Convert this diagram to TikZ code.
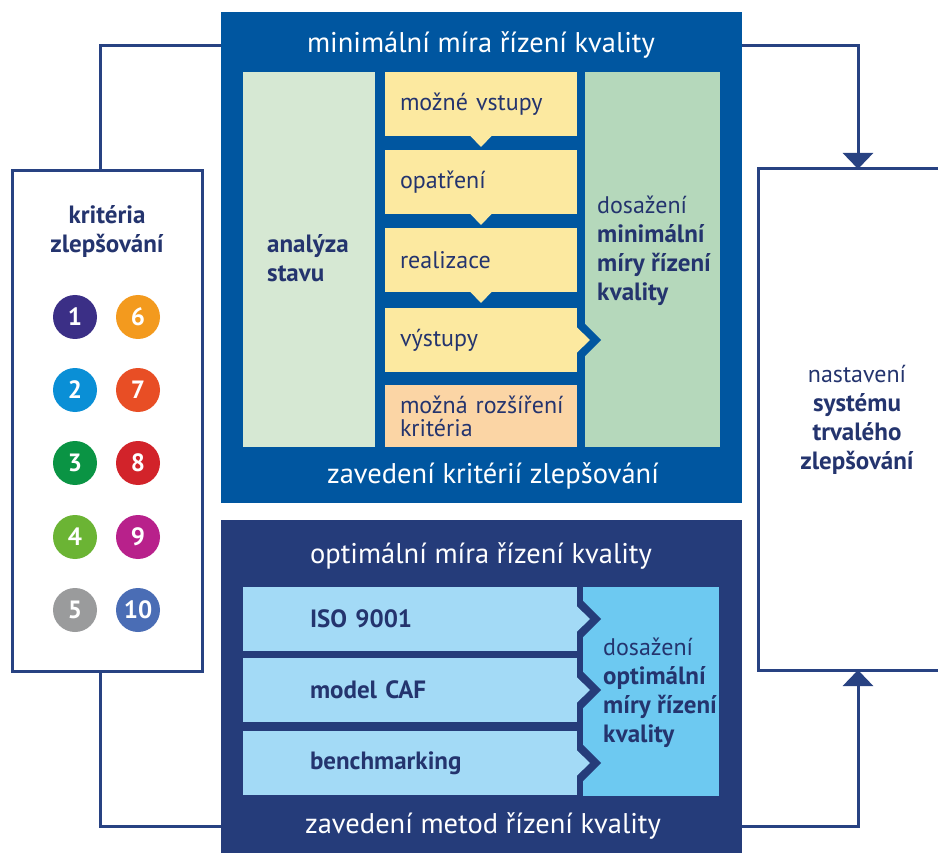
\documentclass[tikz,border=0pt]{standalone}
\usepackage{fontspec}
\setmainfont{PT Sans}
\usetikzlibrary{arrows.meta}

\definecolor{topblue}{RGB}{0,86,160}
\definecolor{navyblue}{RGB}{37,60,122}
\definecolor{linkblue}{RGB}{40,66,130}
\definecolor{txtnavy}{RGB}{36,52,110}
\definecolor{palegreen}{RGB}{214,232,211}
\definecolor{goalgreen}{RGB}{181,216,187}
\definecolor{stepyellow}{RGB}{252,233,160}
\definecolor{steporange}{RGB}{251,213,165}
\definecolor{barblue}{RGB}{163,218,246}
\definecolor{goalblue}{RGB}{109,201,241}
\definecolor{crit1}{RGB}{59,47,134}
\definecolor{crit2}{RGB}{10,143,214}
\definecolor{crit3}{RGB}{10,148,68}
\definecolor{crit4}{RGB}{107,180,52}
\definecolor{crit5}{RGB}{154,155,156}
\definecolor{crit6}{RGB}{243,154,30}
\definecolor{crit7}{RGB}{232,78,37}
\definecolor{crit8}{RGB}{210,35,42}
\definecolor{crit9}{RGB}{184,33,139}
\definecolor{crit10}{RGB}{74,109,181}

\newcommand\titlefont{\fontsize{28.5}{32}\selectfont}
\newcommand\labelfont{\fontsize{24}{29}\selectfont}
\newcommand\boldfont{\fontsize{25}{29}\selectfont\bfseries}
\newcommand\stepfont{\fontsize{24}{23}\selectfont}

\tikzset{
  link/.style={draw=linkblue, line width=3pt},
  linkarrow/.style={link, -{Triangle[width=30pt,length=16pt]}},
  framebox/.style={draw=linkblue, line width=3pt, fill=white, inner sep=0pt, outer sep=0pt, anchor=north west},
  bigbox/.style={inner sep=0pt, outer sep=0pt, anchor=north west},
  panel/.style={inner sep=0pt, outer sep=0pt, anchor=north west},
  title/.style={text=white, font=\titlefont, inner sep=0pt},
  lbl/.style={text=txtnavy, font=\labelfont, align=left, inner sep=0pt},
  stepbox/.style={panel, fill=stepyellow, text=txtnavy, font=\stepfont, align=left,
    inner xsep=15pt, text width=162pt, minimum height=64pt},
  barbox/.style={panel, fill=barblue, text=txtnavy, font=\boldfont, align=left,
    inner xsep=67pt, text width=200pt, minimum height=64pt},
  numdot/.style={circle, minimum size=44pt, inner sep=0pt, text=white, font=\boldfont}
}

\begin{document}
\begin{tikzpicture}[x=1pt, y=-1pt]
  \useasboundingbox (0,0) rectangle (938,853);
  \clip (0,0) rectangle (938,853);
  \fill[white] (0,0) rectangle (938,853);

  % two central blocks
  \node[bigbox, fill=topblue, minimum width=521pt, minimum height=491pt] (minbox) at (221,12) {};
  \node[bigbox, fill=navyblue, minimum width=521pt, minimum height=345pt] (optbox) at (221,520) {};
  \node[title] (mintitle) at (481,45) {minimální míra řízení kvality};
  \node[title] (mincap) at (493,476) {zavedení kritérií zlepšování};
  \node[title] (opttitle) at (481,556) {optimální míra řízení kvality};
  \node[title] (optcap) at (483,826) {zavedení metod řízení kvality};

  % minimal level
  \node[panel, fill=palegreen, minimum width=132pt, minimum height=375pt] (state) at (243,72) {};
  \node[lbl, font=\boldfont, anchor=west] (statetxt) at (267,258) {analýza\\stavu};
  \node[panel, fill=goalgreen, minimum width=135pt, minimum height=375pt] (mingoal) at (585,72) {};
  \node[lbl, anchor=west] (mingoaltxt) at (597,251) {dosažení\\{\boldfont minimální}\\{\boldfont míry řízení}\\{\boldfont kvality}};

  \node[stepbox] (step1) at (385,72) {možné vstupy};
  \node[stepbox] (step2) at (385,150) {opatření};
  \node[stepbox] (step3) at (385,228) {realizace};
  \node[stepbox] (step4) at (385,308) {výstupy};
  \node[stepbox, fill=steporange, minimum height=62pt] (step5) at (385,385) {\mbox{možná rozšíření}\\kritéria};
  \foreach \s in {step1,step2,step3}
    \fill[stepyellow] ([xshift=-11pt,yshift=0.5pt]\s.south) -- ([xshift=11pt,yshift=0.5pt]\s.south) -- ([yshift=-11pt]\s.south) -- cycle;
  \fill[topblue] ([xshift=6pt,yshift=18pt]step4.east) -- ([xshift=24pt]step4.east) -- ([xshift=6pt,yshift=-18pt]step4.east) -- cycle;
  \fill[stepyellow] ([xshift=-0.5pt,yshift=13pt]step4.east) -- ([xshift=13pt]step4.east) -- ([xshift=-0.5pt,yshift=-13pt]step4.east) -- cycle;

  % optimal level
  \node[panel, fill=goalblue, minimum width=136pt, minimum height=209pt] (optgoal) at (583,587) {};
  \node[lbl, anchor=west] (optgoaltxt) at (603,693) {dosažení\\{\boldfont optimální}\\{\boldfont míry řízení}\\{\boldfont kvality}};
  \node[barbox] (iso) at (243,587) {ISO 9001};
  \node[barbox] (caf) at (243,658) {model CAF};
  \node[barbox] (bench) at (243,731) {benchmarking};
  \foreach \b in {iso,caf,bench}{
    \fill[navyblue] ([xshift=6pt,yshift=18pt]\b.east) -- ([xshift=24pt]\b.east) -- ([xshift=6pt,yshift=-18pt]\b.east) -- cycle;
    \fill[barblue] ([xshift=-0.5pt,yshift=13pt]\b.east) -- ([xshift=13pt]\b.east) -- ([xshift=-0.5pt,yshift=-13pt]\b.east) -- cycle;
  }

  % criteria
  \node[framebox, minimum width=190pt, minimum height=500pt] (critbox) at (12,171) {};
  \node[lbl, font=\boldfont, align=center] (crittxt) at (107,232) {kritéria\\zlepšování};
  \foreach \n/\cx/\cy in {1/75/317, 2/75/390, 3/75/463, 4/75/537, 5/75/610,
                          6/138/317, 7/138/390, 8/138/463, 9/138/537, 10/138/610}
    \node[numdot, fill=crit\n] (crit\n) at (\cx,\cy) {\n};

  % continuous improvement
  \node[framebox, minimum width=200pt, minimum height=501pt] (setbox) at (758,169) {};
  \node[lbl, align=center] (settxt) at (857,420) {nastavení\\{\boldfont systému}\\{\boldfont trvalého}\\{\boldfont zlepšování}};

  % connectors
  \draw[link] ([xshift=-7pt]critbox.north) |- ([yshift=-34pt]minbox.north west);
  \draw[link] ([xshift=-7pt]critbox.south) |- ([yshift=-306pt]optbox.north west);
  \draw[linkarrow] ([yshift=-34pt]minbox.north east) -| (setbox.north);
  \draw[linkarrow] ([yshift=-306pt]optbox.north east) -| (setbox.south);
\end{tikzpicture}
\end{document}
